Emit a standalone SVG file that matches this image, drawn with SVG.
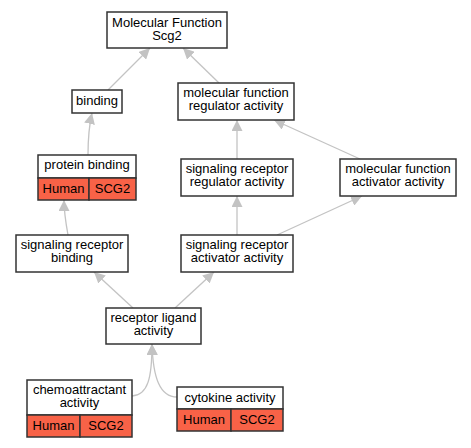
<svg xmlns="http://www.w3.org/2000/svg" width="471" height="448" viewBox="0 0 471 448">
<style>
.box{fill:#fff;stroke:#333;stroke-width:1.5}
.cell{fill:#f86247;stroke:#333;stroke-width:1.5}
text{font-family:"Liberation Sans",Arial,sans-serif;font-size:13px;fill:#000;text-anchor:middle}
.e{fill:none;stroke:#c3c3c3;stroke-width:1.3;marker-end:url(#ah)}
</style>
<defs>
<marker id="ah" markerUnits="userSpaceOnUse" markerWidth="12" markerHeight="11" refX="11" refY="5.5" orient="auto" viewBox="0 0 12 11">
<path d="M0,0 L11,5.5 L0,11 z" fill="#c3c3c3"/>
</marker>
</defs>
<rect width="471" height="448" fill="#fff"/>
<g id="edges">
<path class="e" d="M108,90 L150,48"/>
<path class="e" d="M219,83 L183,48"/>
<path class="e" d="M88,155 C88,140 89,126 92,113"/>
<path class="e" d="M68,235 C66,224 64,212 64,200"/>
<path class="e" d="M237,159 L237,120"/>
<path class="e" d="M360,159 L274,120"/>
<path class="e" d="M237,235 L237,196"/>
<path class="e" d="M277,235 L362,196"/>
<path class="e" d="M133,308 L94,272"/>
<path class="e" d="M175,308 L214,272"/>
<path class="e" d="M132,396 C148,395 152,378 152,344"/>
<path class="e" d="M177,397 C160,397 153,378 152,344"/>
</g>
<g id="mf">
<rect class="box" x="107" y="12" width="120" height="36"/>
<text x="167" y="27">Molecular Function</text>
<text x="167" y="40">Scg2</text>
</g>
<g id="binding">
<rect class="box" x="72" y="90" width="50" height="23"/>
<text x="97" y="105">binding</text>
</g>
<g id="mfra">
<rect class="box" x="178" y="83" width="116" height="37"/>
<text x="236" y="97">molecular function</text>
<text x="236" y="110">regulator activity</text>
</g>
<g id="pb">
<rect class="box" x="38" y="155" width="98" height="23"/>
<text x="87" y="169">protein binding</text>
<rect class="cell" x="38" y="178" width="51" height="22"/>
<rect class="cell" x="89" y="178" width="47" height="22"/>
<text x="63.5" y="193">Human</text>
<text x="112.5" y="193">SCG2</text>
</g>
<g id="srra">
<rect class="box" x="181" y="159" width="112" height="37"/>
<text x="237" y="173">signaling receptor</text>
<text x="237" y="186">regulator activity</text>
</g>
<g id="mfaa">
<rect class="box" x="340" y="159" width="116" height="37"/>
<text x="398" y="173">molecular function</text>
<text x="398" y="186">activator activity</text>
</g>
<g id="srb">
<rect class="box" x="16" y="235" width="112" height="37"/>
<text x="72" y="249">signaling receptor</text>
<text x="72" y="262">binding</text>
</g>
<g id="sraa">
<rect class="box" x="181" y="235" width="112" height="37"/>
<text x="237" y="249">signaling receptor</text>
<text x="237" y="262">activator activity</text>
</g>
<g id="rla">
<rect class="box" x="106" y="308" width="95" height="36"/>
<text x="153.5" y="322">receptor ligand</text>
<text x="153.5" y="335">activity</text>
</g>
<g id="chemo">
<rect class="box" x="27" y="380" width="105" height="35"/>
<text x="79.5" y="394">chemoattractant</text>
<text x="79.5" y="407">activity</text>
<rect class="cell" x="27" y="415" width="53" height="22"/>
<rect class="cell" x="80" y="415" width="52" height="22"/>
<text x="53.5" y="430">Human</text>
<text x="106" y="430">SCG2</text>
</g>
<g id="cyto">
<rect class="box" x="177" y="387" width="106" height="22"/>
<text x="230" y="402">cytokine activity</text>
<rect class="cell" x="177" y="409" width="54" height="22"/>
<rect class="cell" x="231" y="409" width="52" height="22"/>
<text x="204" y="424">Human</text>
<text x="257" y="424">SCG2</text>
</g>
</svg>
